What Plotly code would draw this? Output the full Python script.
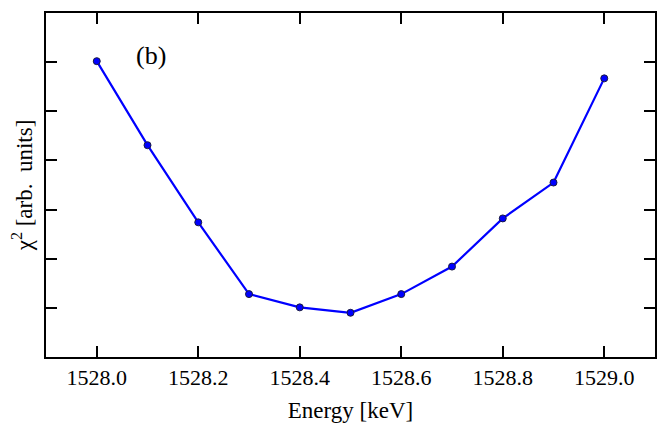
import plotly.graph_objects as go

energy = [1528.0, 1528.1, 1528.2, 1528.3, 1528.4, 1528.5, 1528.6, 1528.7, 1528.8, 1528.9, 1529.0]
chi2 = [6.02, 4.31, 2.74, 1.28, 1.01, 0.90, 1.28, 1.84, 2.82, 3.55, 5.67]
x_ticks = [1528.0, 1528.2, 1528.4, 1528.6, 1528.8, 1529.0]
x_tick_labels = ["1528.0", "1528.2", "1528.4", "1528.6", "1528.8", "1529.0"]
y_ticks = [1, 2, 3, 4, 5, 6]

serif = "Liberation Serif"
tick_font = dict(family=serif, size=22, color="black")
title_font = dict(family=serif, size=23, color="black")

fig = go.Figure()
fig.add_trace(go.Scatter(
    x=energy, y=chi2, mode="lines+markers",
    line=dict(color="#0000ff", width=2.2),
    marker=dict(color="#0000ff", size=7, line=dict(color="#1a1a40", width=1)),
    showlegend=False,
))

# the page body has an 8px margin, so the figure is sized/offset to compensate
fig.update_layout(
    template="none",
    width=659, height=415,
    margin=dict(l=38, r=12, t=5, b=66, autoexpand=False),
    paper_bgcolor="white", plot_bgcolor="white",
    font=dict(family=serif, size=22, color="black"),
    xaxis=dict(
        range=[1527.9, 1529.1], tickvals=x_ticks, ticktext=x_tick_labels,
        tickfont=tick_font,
        ticks="inside", ticklen=11, tickwidth=2, tickcolor="black",
        showline=True, linewidth=2, linecolor="black", mirror="ticks",
        showgrid=False, zeroline=False, automargin=False,
        title=dict(text="Energy [keV]", font=title_font, standoff=25),
    ),
    yaxis=dict(
        range=[0, 7], tickvals=y_ticks, showticklabels=False,
        ticks="inside", ticklen=11, tickwidth=2, tickcolor="black",
        showline=True, linewidth=2, linecolor="black", mirror="ticks",
        showgrid=False, zeroline=False, automargin=False,
        title=dict(text="χ<sup>2</sup> [arb.  units]", font=title_font, standoff=12),
    ),
    annotations=[dict(
        x=1528.106, y=6.14, xref="x", yref="y", text="(b)", showarrow=False,
        font=dict(family=serif, size=26, color="black"),
    )],
)

fig.write_html("out.html")
